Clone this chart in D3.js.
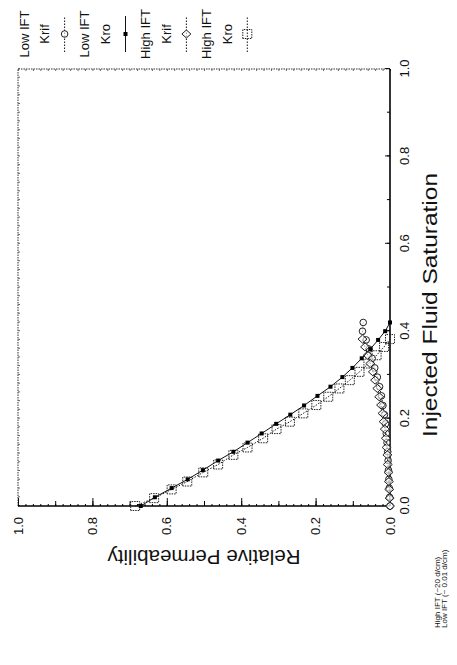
<!DOCTYPE html>
<html><head><meta charset="utf-8">
<script src="https://cdn.jsdelivr.net/npm/d3@7"></script>
<style>body{margin:0;background:#fff}svg{display:block}text{font-family:"Liberation Sans",Arial,Helvetica,sans-serif;fill:#111}</style>
</head><body><svg id="c" width="457" height="665"></svg>
<script>
// ---- data ----
const satTicks = [0, 0.2, 0.4, 0.6, 0.8, 1.0];
const permTicks = [0, 0.2, 0.4, 0.6, 0.8, 1.0];

// Low IFT (~0.01 d/cm)
const satLow   = [0.000,0.020,0.041,0.061,0.082,0.104,0.124,0.145,0.166,0.188,0.209,0.230,0.252,0.273,0.295,0.316,0.338,0.359,0.380,0.400,0.420];
const kroLow   = [0.670,0.632,0.587,0.544,0.503,0.462,0.421,0.383,0.345,0.306,0.268,0.231,0.195,0.160,0.128,0.101,0.076,0.053,0.032,0.013,0.000];
const krifLow  = [0.000,0.001,0.002,0.003,0.004,0.005,0.006,0.008,0.010,0.012,0.015,0.019,0.023,0.028,0.034,0.041,0.048,0.056,0.064,0.074,0.072];

// High IFT (~20 d/cm)
const satHigh  = [0.000,0.018,0.038,0.056,0.077,0.095,0.117,0.134,0.155,0.176,0.193,0.212,0.231,0.250,0.269,0.288,0.307,0.326,0.345,0.364,0.382];
const kroHigh  = [0.685,0.634,0.587,0.545,0.502,0.462,0.421,0.383,0.341,0.305,0.269,0.233,0.198,0.166,0.136,0.108,0.082,0.058,0.036,0.016,0.000];
const krifHigh = [0.000,0.001,0.002,0.003,0.004,0.006,0.007,0.009,0.011,0.014,0.017,0.020,0.024,0.029,0.034,0.040,0.046,0.053,0.060,0.067,0.074];

const legendEntries = [
  ["Low IFT", "Krif", "circle"],
  ["Low IFT", "Kro", "dot"],
  ["High IFT", "Krif", "diamond"],
  ["High IFT", "Kro", "square"]
];
const xTitle = "Injected Fluid Saturation";
const yTitle = "Relative Permeability";
const footnotes = ["High IFT (~20 d/cm)", "Low IFT (~ 0.01 d/cm)"];

// ---- drawing (chart is drawn upright, then rotated 90° counter-clockwise) ----
const svg = d3.select("#c");
const H = 665;
const g = svg.append("g").attr("transform", `translate(0,${H}) rotate(-90)`);

const x = d3.scaleLinear().domain([0, 1]).range([159, 596]);
const y = d3.scaleLinear().domain([0, 1]).range([390, 18]);

// frame
g.append("line").attr("x1", x(0)).attr("x2", x(1)).attr("y1", y(1)).attr("y2", y(1))
  .attr("stroke", "#555").attr("stroke-width", 1.2).attr("stroke-dasharray", "1.5,1");
g.append("line").attr("x1", x(1)).attr("x2", x(1)).attr("y1", y(0)).attr("y2", y(1))
  .attr("stroke", "#333").attr("stroke-width", 1.2).attr("stroke-dasharray", "1.5,1");

// minor ticks
function noLabel(a){ return a.tickFormat(""); }
g.append("g").attr("transform", `translate(${x(0)},0)`)
  .call(noLabel(d3.axisLeft(y).tickValues(d3.range(0, 1.001, 0.02)).tickSize(-2)))
  .call(s => s.select(".domain").remove());
g.append("g").attr("transform", `translate(${x(0)},0)`)
  .call(noLabel(d3.axisLeft(y).tickValues(d3.range(0, 1.001, 0.1)).tickSize(-5)))
  .call(s => s.select(".domain").remove());
g.append("g").attr("transform", `translate(0,${y(0)})`)
  .call(noLabel(d3.axisBottom(x).tickValues(d3.range(0, 1.001, 0.1)).tickSize(-3)))
  .call(s => s.select(".domain").remove());
g.append("g").attr("transform", `translate(0,${y(1)})`)
  .call(noLabel(d3.axisTop(x).tickValues(d3.range(0, 1.001, 0.02)).tickSize(-2)))
  .call(s => s.select(".domain").remove())
  .selectAll("line").attr("stroke", "#666");
g.append("g").attr("transform", `translate(${x(1)},0)`)
  .call(noLabel(d3.axisRight(y).tickValues(d3.range(0, 1.001, 0.02)).tickSize(-2)))
  .call(s => s.select(".domain").remove())
  .selectAll("line").attr("stroke", "#666");

// main axes
const xAxis = g.append("g").attr("transform", `translate(0,${y(0)})`)
  .call(d3.axisBottom(x).tickValues(satTicks).tickSize(-5).tickPadding(10).tickFormat(d3.format(".1f")));
const yAxis = g.append("g").attr("transform", `translate(${x(0)},0)`)
  .call(d3.axisLeft(y).tickValues(permTicks).tickSize(-8).tickPadding(11).tickFormat(d3.format(".1f")));
[xAxis, yAxis].forEach(a => {
  a.select(".domain").remove();
  a.selectAll("text").attr("font-size", 13).style("font-family", '"Liberation Sans",Arial,sans-serif');
  a.selectAll("line").attr("stroke", "#111");
});
g.append("line").attr("x1", x(0)).attr("x2", x(1)).attr("y1", y(0)).attr("y2", y(0))
  .attr("stroke", "#000").attr("stroke-width", 1.6);
g.append("line").attr("x1", x(0)).attr("x2", x(0)).attr("y1", y(0)).attr("y2", y(1))
  .attr("stroke", "#000").attr("stroke-width", 1.6);

// titles
g.append("text").attr("x", 360).attr("y", 437).attr("text-anchor", "middle")
  .attr("font-size", 20).attr("textLength", 264).attr("lengthAdjust", "spacingAndGlyphs").text(xTitle);
g.append("text").attr("transform", `translate(115,${(y(0) + y(1)) / 2}) rotate(-90)`)
  .attr("text-anchor", "middle").attr("font-size", 20)
  .attr("textLength", 193).attr("lengthAdjust", "spacingAndGlyphs").text(yTitle);

// markers
function marker(sel, type, cx, cy) {
  if (type === "dot") {
    sel.append("rect").attr("x", cx - 2).attr("y", cy - 2).attr("width", 4).attr("height", 4).attr("fill", "#000");
  } else if (type === "square") {
    sel.append("rect").attr("x", cx - 4.5).attr("y", cy - 4.5).attr("width", 9).attr("height", 9)
      .attr("fill", "none").attr("stroke", "#222").attr("stroke-width", 1).attr("stroke-dasharray", "1.5,1");
  } else if (type === "diamond") {
    sel.append("path").attr("d", `M${cx},${cy - 4.5}L${cx + 4},${cy}L${cx},${cy + 4.5}L${cx - 4},${cy}Z`)
      .attr("fill", "#fff").attr("fill-opacity", 0.6).attr("stroke", "#222").attr("stroke-width", 1);
  } else if (type === "circle") {
    sel.append("circle").attr("cx", cx).attr("cy", cy).attr("r", 3.3)
      .attr("fill", "#fff").attr("fill-opacity", 0.6).attr("stroke", "#222").attr("stroke-width", 1);
  }
}

const series = [
  { s: satHigh, r: kroHigh, type: "square", dash: "1.5,1.5" },
  { s: satLow, r: krifLow, type: "circle", dash: "1.5,1.5" },
  { s: satHigh, r: krifHigh, type: "diamond", dash: "1.5,1.5" },
  { s: satLow, r: kroLow, type: "dot", dash: null }
];
const line = d3.line().x(d => x(d[0])).y(d => y(d[1]));
series.forEach(se => {
  const pts = se.s.map((v, i) => [v, se.r[i]]);
  const p = g.append("path").attr("d", line(pts)).attr("fill", "none").attr("stroke", "#111").attr("stroke-width", 1);
  if (se.dash) p.attr("stroke-dasharray", se.dash);
  const mg = g.append("g");
  pts.forEach(pt => marker(mg, se.type, x(pt[0]), y(pt[1])));
});

// legend (columns across the top after rotation)
const colPos = c => 24 + 20.3 * c; // actual X of column
const legX = 631;
legendEntries.forEach((e, i) => {
  const c0 = 3 * i;
  g.append("text").attr("x", legX).attr("y", colPos(c0)).attr("dy", "0.35em").attr("text-anchor", "middle").attr("font-size", 13).text(e[0]);
  g.append("text").attr("x", legX).attr("y", colPos(c0 + 1)).attr("dy", "0.35em").attr("text-anchor", "middle").attr("font-size", 13).text(e[1]);
  const sy = colPos(c0 + 2);
  const l = g.append("line").attr("x1", legX - 18).attr("x2", legX + 18).attr("y1", sy).attr("y2", sy)
    .attr("stroke", "#111").attr("stroke-width", 1);
  if (e[2] !== "dot") l.attr("stroke-dasharray", "1.5,1.5");
  marker(g, e[2], legX, sy);
});

// footnote
footnotes.forEach((t, i) => {
  g.append("text").attr("x", 37).attr("y", 440 + i * 6.5).attr("font-size", 8).text(t);
});
</script></body></html>
